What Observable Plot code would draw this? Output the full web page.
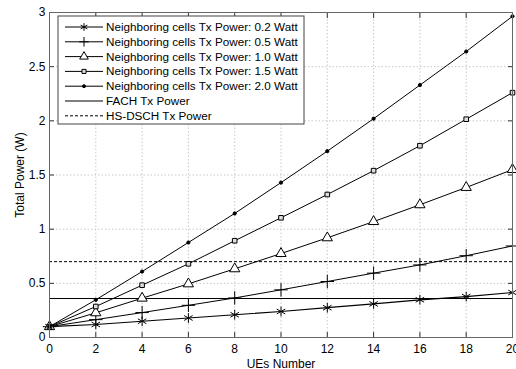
<!DOCTYPE html>
<html><head><meta charset="utf-8">
<script src="https://cdn.jsdelivr.net/npm/d3@7"></script>
<script src="https://cdn.jsdelivr.net/npm/@observablehq/plot@0.6"></script>
<style>
body{margin:0;background:#fff}
#chart svg{font-family:"Liberation Sans",Arial,sans-serif}
</style>
</head><body><div id="chart"></div>
<script>
const ues = [0,2,4,6,8,10,12,14,16,18,20];
const p02 = [0.10,0.12,0.15,0.18,0.21,0.24,0.275,0.31,0.348,0.378,0.415];
const p05 = [0.10,0.165,0.23,0.297,0.365,0.44,0.517,0.594,0.67,0.755,0.845];
const p10 = [0.10,0.228,0.363,0.495,0.634,0.775,0.92,1.07,1.225,1.385,1.55];
const p15 = [0.10,0.286,0.483,0.68,0.893,1.105,1.32,1.54,1.77,2.015,2.26];
const p20 = [0.10,0.348,0.609,0.877,1.145,1.43,1.72,2.02,2.33,2.64,2.965];
const fachPower = 0.36;
const hsdschPower = 0.70;
const seriesNames = [
  "Neighboring cells Tx Power: 0.2 Watt",
  "Neighboring cells Tx Power: 0.5 Watt",
  "Neighboring cells Tx Power: 1.0 Watt",
  "Neighboring cells Tx Power: 1.5 Watt",
  "Neighboring cells Tx Power: 2.0 Watt"
];
const fachName = "FACH Tx Power";
const hsdschName = "HS-DSCH Tx Power";
const xTicks = [0,2,4,6,8,10,12,14,16,18,20];
const xTickLabels = ["0","2","4","6","8","10","12","14","16","18","20"];
const yTicks = [0,0.5,1,1.5,2,2.5,3];
const yTickLabels = ["0","0.5","1","1.5","2","2.5","3"];
const xLabel = "UEs Number";
const yLabel = "Total Power (W)";

const seriesValues = [p02,p05,p10,p15,p20];
const styles = [
  {symbol:"asterisk", r:4.6, lr:3.6, fill:"none", sw:1.2},
  {symbol:"plus", r:4.4, lr:3.2, fill:"none", sw:1},
  {symbol:"triangle", r:3.8, lr:3.2, fill:"white", sw:1},
  {symbol:"square", r:2.6, lr:2.3, fill:"#ddd", sw:1},
  {symbol:"circle", r:1.6, lr:1.5, fill:"black", sw:1}
];
const series = seriesNames.map((name,k)=>({name, values: seriesValues[k], ...styles[k]}));

const seriesMarks = series.flatMap(s => {
  const rows = ues.map((u,i)=>({ue:u, power:s.values[i]}));
  return [
    Plot.line(rows, {x:"ue", y:"power", stroke:"black", strokeWidth: s.sw}),
    Plot.dot(rows, {x:"ue", y:"power", symbol: s.symbol, r: s.r, stroke:"black", fill: s.fill, strokeWidth: 1})
  ];
});

const plot = Plot.plot({
  width: 516, height: 369,
  marginLeft: 49, marginRight: 4, marginTop: 12, marginBottom: 32,
  style: {fontSize: "12px", fontFamily: "Liberation Sans, Arial, sans-serif", color: "black", background: "white"},
  x: {domain: [0,20]},
  y: {domain: [0,3]},
  marks: [
    Plot.gridX({ticks: xTicks, stroke:"#c8c8c8", strokeOpacity:1, strokeDasharray:"1.5,2"}),
    Plot.gridY({ticks: yTicks, stroke:"#c8c8c8", strokeOpacity:1, strokeDasharray:"1.5,2"}),
    Plot.ruleY([fachPower], {stroke:"black", strokeWidth:1.1}),
    Plot.ruleY([hsdschPower], {stroke:"black", strokeWidth:1, strokeDasharray:"3,2"}),
    ...seriesMarks,
    Plot.axisX({ticks: xTicks, tickSize: 0, tickPadding: 7, tickFormat: (d,i)=>xTickLabels[i], label: xLabel, labelAnchor:"center", labelOffset: 30, labelArrow: "none", fill:"black"}),
    Plot.axisX({ticks: xTicks, tickSize: -5, tickFormat: ()=>"", label: null, stroke:"#333"}),
    Plot.axisX({anchor:"top", ticks: xTicks, tickSize: -5, tickFormat: ()=>"", label: null, stroke:"#333"}),
    Plot.axisY({ticks: yTicks, tickSize: 0, tickPadding: 4, tickFormat: (d,i)=>yTickLabels[i], label: yLabel, labelAnchor:"center", labelOffset: 34, labelArrow: "none", fill:"black"}),
    Plot.axisY({ticks: yTicks, tickSize: -5, tickFormat: ()=>"", label: null, stroke:"#333"}),
    Plot.axisY({anchor:"right", ticks: yTicks, tickSize: -5, tickFormat: ()=>"", label: null, stroke:"#333"}),
    Plot.frame({stroke:"#666", strokeWidth:1})
  ]
});
document.getElementById("chart").appendChild(plot);

// legend (layout only)
const svg = d3.select(plot);
const lg = svg.append("g").attr("font-family","Liberation Sans, Arial, sans-serif").attr("font-size","11.7px").attr("text-anchor","start");
const bx = 58, by = 16, bw = 246, bh = 108;
lg.append("rect").attr("x",bx).attr("y",by).attr("width",bw).attr("height",bh).attr("fill","white").attr("stroke","#444");
const entries = [
  ...series.map(s=>({name:s.name, symbol:s.symbol, r:s.lr, fill:s.fill, dash:null, sw:s.sw})),
  {name: fachName, symbol:null, dash:null, sw:1.1},
  {name: hsdschName, symbol:null, dash:"3,2", sw:1}
];
const symMap = {asterisk:d3.symbolAsterisk, plus:d3.symbolPlus, triangle:d3.symbolTriangle, square:d3.symbolSquare, circle:d3.symbolCircle};
entries.forEach((e,i)=>{
  const y = by + 11 + i*14.8;
  lg.append("line").attr("x1",65).attr("x2",103).attr("y1",y).attr("y2",y).attr("stroke","black").attr("stroke-width",e.sw).attr("stroke-dasharray",e.dash);
  if (e.symbol) {
    lg.append("path").attr("d", d3.symbol(symMap[e.symbol], Math.PI*e.r*e.r)()).attr("transform",`translate(84,${y})`)
      .attr("fill", e.fill).attr("stroke","black").attr("stroke-width",1);
  }
  lg.append("text").attr("x",106).attr("y",y).attr("dy","0.35em").attr("fill","black").attr("text-anchor","start").text(e.name);
});
</script>
</body></html>
